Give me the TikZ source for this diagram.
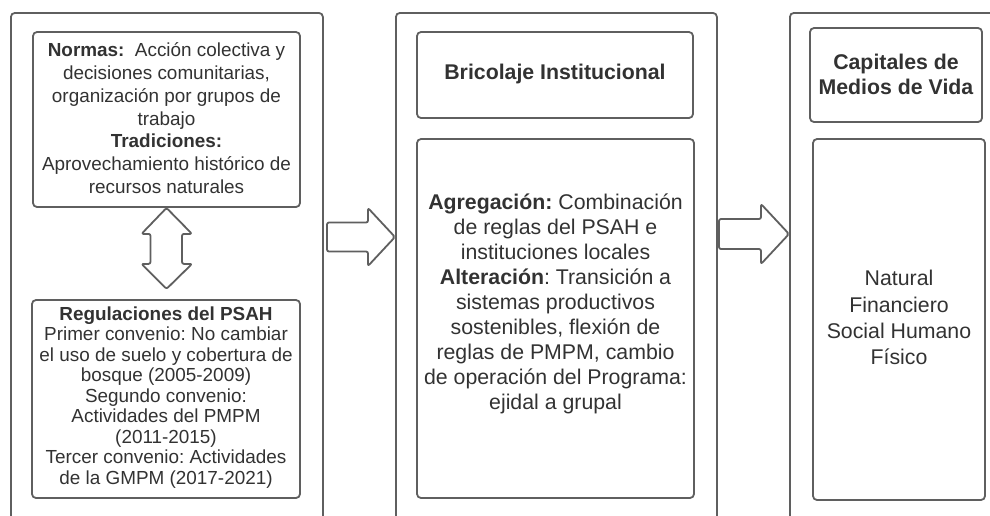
\documentclass[tikz,border=0pt]{standalone}
\usepackage{fontspec}
\setmainfont{Liberation Sans}
\frenchspacing
\definecolor{linegray}{RGB}{95,95,95}
\definecolor{textgray}{RGB}{50,50,50}
\tikzset{
  outerbox/.style={draw=linegray, line width=1.8pt, rounded corners=4pt, anchor=north west, inner sep=0pt},
  innerbox/.style={draw=linegray, line width=1.8pt, rounded corners=4pt, inner sep=0pt},
  smalltxt/.style={text=textgray, align=center, inner sep=0pt, font=\fontsize{18.9}{22.8}\selectfont},
  tighttxt/.style={text=textgray, align=center, inner sep=0pt, font=\fontsize{18.9}{20.5}\selectfont},
  bigtxt/.style={text=textgray, align=center, inner sep=0pt, font=\fontsize{21.3}{25}\selectfont},
  blockarrow/.style={draw=linegray, line width=1.8pt, rounded corners=2pt, fill=white, line join=round}
}
\begin{document}
\begin{tikzpicture}[x=1pt,y=-1pt]
\useasboundingbox (0,0) rectangle (990,515);
\clip (0,0) rectangle (990,515);

% outer columns (open at the bottom edge of the picture)
\node[outerbox, minimum width=312pt, minimum height=540pt] (colA) at (10,12) {};
\node[outerbox, minimum width=321pt, minimum height=540pt] (colB) at (395,12) {};
\node[outerbox, minimum width=260pt, minimum height=540pt] (colC) at (789,12) {};

% left column
\node[innerbox, minimum width=267pt, minimum height=175pt] (normas) at (166.5,119.5) {};
\node[smalltxt] (normastxt) at (166.5,118.3) {\textbf{Normas:}\ \ Acción colectiva y\\ decisiones comunitarias,\\ organización por grupos de\\ trabajo\\ \textbf{Tradiciones:}\\ Aprovechamiento histórico de\\ recursos naturales};
\node[innerbox, minimum width=268pt, minimum height=198pt] (regul) at (166,399) {};
\node[tighttxt] (regultxt) at (166,397.5) {\textbf{Regulaciones del PSAH}\\ Primer convenio: No cambiar\\ el uso de suelo y cobertura de\\ bosque (2005-2009)\\ Segundo convenio:\\ Actividades del PMPM\\ (2011-2015)\\ Tercer convenio: Actividades\\ de la GMPM (2017-2021)};

% middle column
\node[innerbox, minimum width=276pt, minimum height=86pt] (bric) at (555,75) {};
\node[bigtxt] (brictxt) at (555,73.5) {\textbf{Bricolaje Institucional}};
\node[innerbox, minimum width=277pt, minimum height=359pt] (agreg) at (555.5,318.5) {};
\node[bigtxt] (agregtxt) at (555.5,303.5) {\textbf{Agregación:} Combinación\\ de reglas del PSAH e\\ instituciones locales\\ \textbf{Alteración}: Transición a\\ sistemas productivos\\ sostenibles, flexión de\\ reglas de PMPM, cambio\\ de operación del Programa:\\ ejidal a grupal};

% right column
\node[innerbox, minimum width=172pt, minimum height=94pt] (cap) at (896,75) {};
\node[bigtxt] (captxt) at (896,74.5) {\textbf{Capitales de}\\ \textbf{Medios de Vida}};
\node[innerbox, minimum width=172pt, minimum height=361pt] (nat) at (899,319.5) {};
\node[bigtxt, font=\fontsize{21.3}{26.2}\selectfont] (nattxt) at (899,317.5) {Natural\\ Financiero\\ Social Humano\\ Físico};

% double block arrow between the two left boxes
\coordinate (dtop) at (normas.south);
\draw[blockarrow] (dtop) -- ++(25.5,26) -- ++(-10,0) -- ++(0,30) -- ++(10,0)
  -- ++(-25.5,25) -- ++(-25,-25) -- ++(9,0) -- ++(0,-30) -- ++(-9,0) -- cycle;

% block arrow left -> middle
\coordinate (a1tip) at (colB.west |- 0,237);
\draw[blockarrow] (a1tip) -- ++(-27,-29) -- ++(0,14.5) -- ++(-41,0) -- ++(0,29)
  -- ++(41,0) -- ++(0,14.5) -- cycle;

% block arrow middle -> right
\coordinate (a2tip) at (colC.west |- 0,234);
\draw[blockarrow] (a2tip) -- ++(-28,-30) -- ++(0,15) -- ++(-42,0) -- ++(0,30)
  -- ++(42,0) -- ++(0,15) -- cycle;
\end{tikzpicture}
\end{document}
